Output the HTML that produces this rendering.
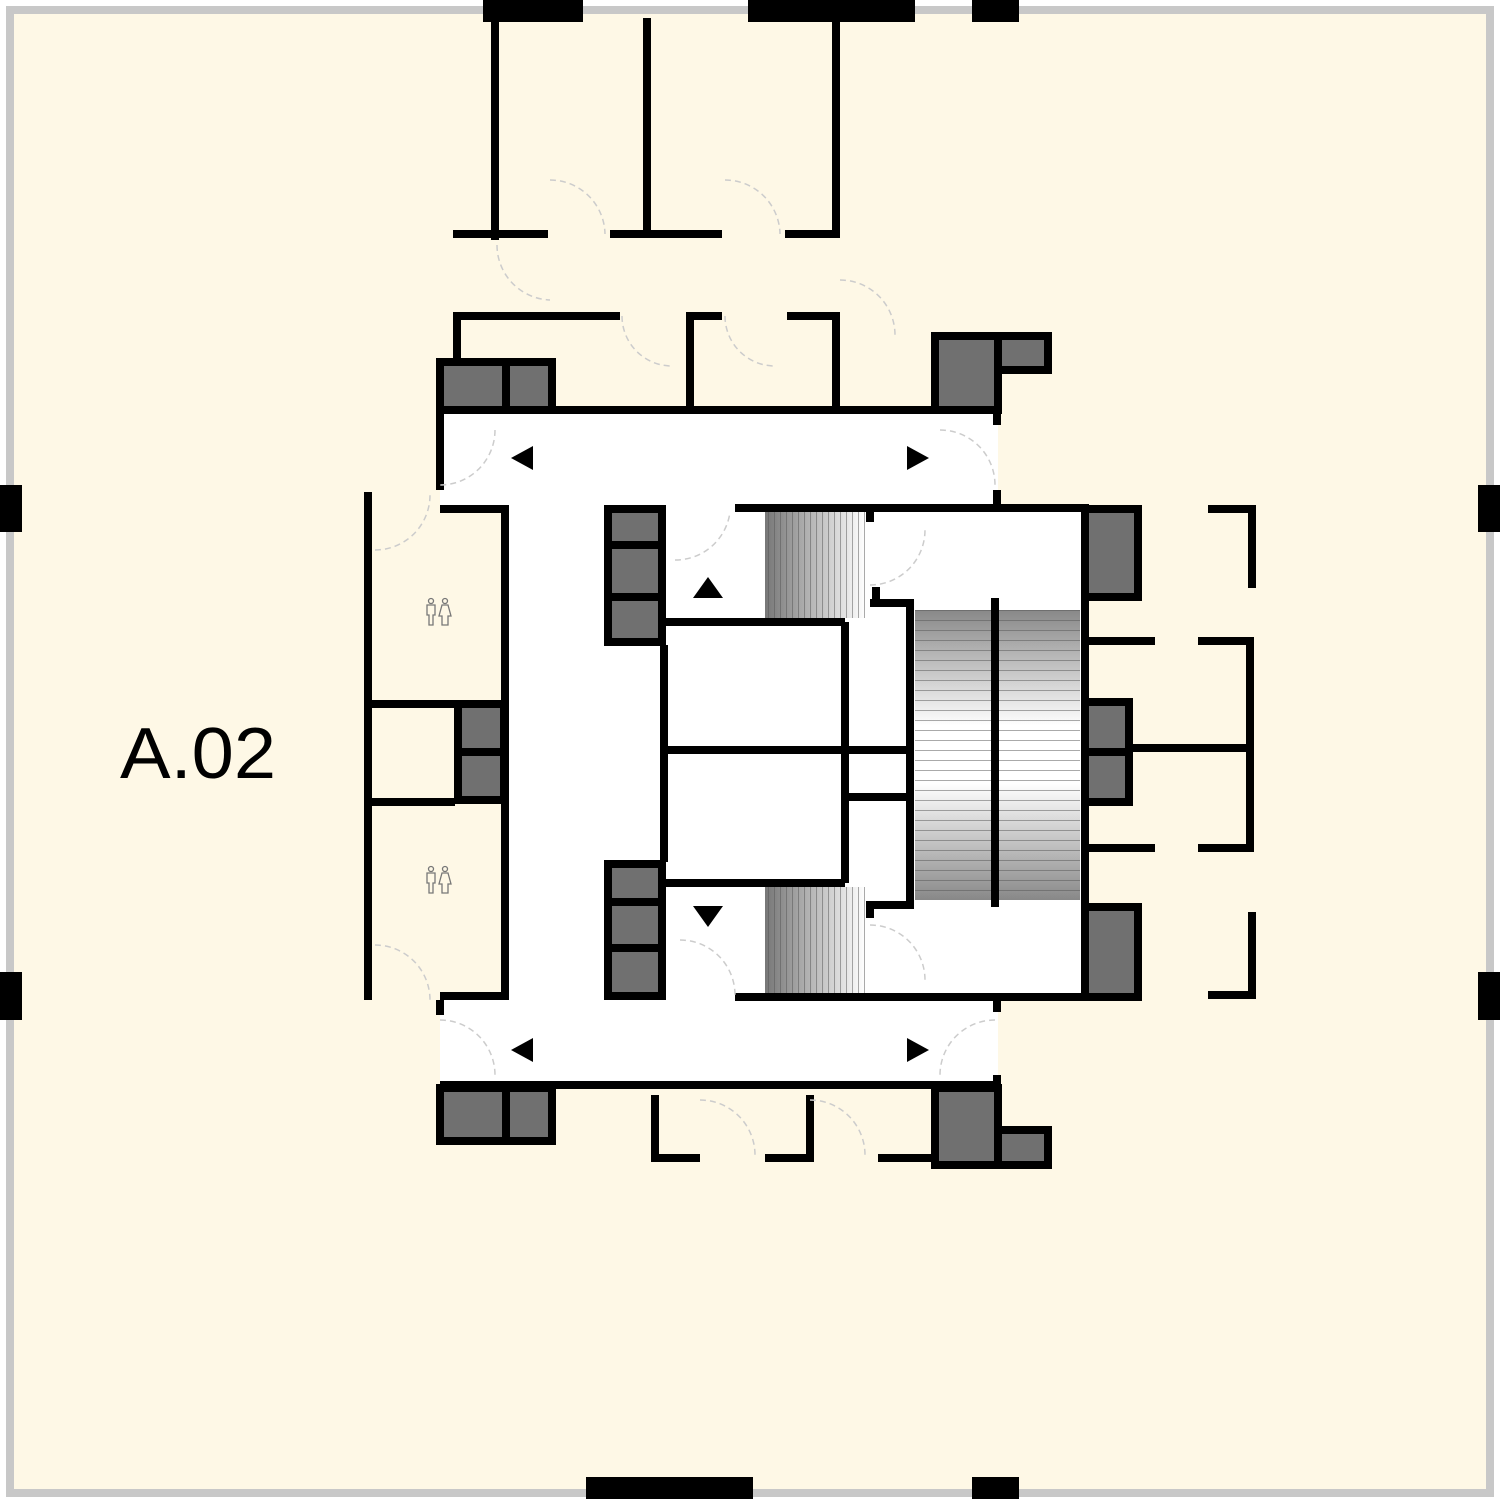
<!DOCTYPE html>
<html><head><meta charset="utf-8"><style>html,body{margin:0;padding:0;background:#fff}svg{display:block}</style></head><body>
<svg width="1500" height="1503" viewBox="0 0 1500 1503" xmlns="http://www.w3.org/2000/svg">
<defs>
<linearGradient id="st" x1="0" y1="0" x2="0" y2="1"><stop offset="0" stop-color="#888"/><stop offset="0.4" stop-color="#fff"/><stop offset="0.6" stop-color="#fff"/><stop offset="1" stop-color="#888"/></linearGradient>
<linearGradient id="es" x1="0" y1="0" x2="1" y2="0"><stop offset="0" stop-color="#777"/><stop offset="1" stop-color="#fff"/></linearGradient>
<pattern id="ln" width="8" height="10" patternUnits="userSpaceOnUse"><line x1="0" y1="0" x2="8" y2="0" stroke="#555" stroke-width="1"/></pattern>
<pattern id="lv" width="6" height="8" patternUnits="userSpaceOnUse"><line x1="0" y1="0" x2="0" y2="8" stroke="#555" stroke-width="1"/></pattern>
<g id="wc" fill="none" stroke="#777" stroke-width="1.3">
<circle cx="-7" cy="-12" r="2.5"/><path d="M-11 -8H-3V2H-5V12H-9V2H-11Z"/>
<circle cx="7" cy="-12" r="2.5"/><path d="M4 -8H10L13 3H10V12H4V3H1Z"/>
</g>
</defs>
<rect x="10" y="10" width="1480" height="1483" fill="#fef8e6" stroke="#c8c8c8" stroke-width="8"/>
<g fill="#000">
<rect x="483" y="0" width="100" height="22"/><rect x="748" y="0" width="167" height="22"/><rect x="972" y="0" width="47" height="22"/>
<rect x="0" y="485" width="22" height="47"/><rect x="0" y="972" width="22" height="48"/>
<rect x="1478" y="485" width="22" height="47"/><rect x="1478" y="972" width="22" height="48"/>
<rect x="586" y="1477" width="167" height="22"/><rect x="972" y="1477" width="47" height="22"/>
</g>
<g fill="#fff">
<rect x="440" y="414" width="558" height="91"/>
<rect x="505" y="505" width="105" height="495"/>
<rect x="440" y="1000" width="558" height="85"/>
<rect x="610" y="505" width="475" height="495"/>
</g>
<rect x="915" y="610" width="165" height="290" fill="url(#st)"/>
<rect x="915" y="610" width="165" height="290" fill="url(#ln)"/>
<rect x="765" y="512" width="100" height="106" fill="url(#es)"/><rect x="765" y="512" width="100" height="106" fill="url(#lv)"/>
<rect x="765" y="887" width="100" height="106" fill="url(#es)"/><rect x="765" y="887" width="100" height="106" fill="url(#lv)"/>
<g fill="#707070" stroke="#000" stroke-width="8">
<rect x="440" y="362" width="66" height="48"/><rect x="506" y="362" width="46" height="48"/>
<rect x="935" y="336" width="63" height="74"/><rect x="998" y="336" width="50" height="34"/>
<rect x="458" y="704" width="46" height="48"/><rect x="458" y="752" width="46" height="48"/>
<rect x="608" y="509" width="54" height="36"/><rect x="608" y="545" width="54" height="52"/><rect x="608" y="597" width="54" height="45"/>
<rect x="608" y="864" width="54" height="38"/><rect x="608" y="902" width="54" height="46"/><rect x="608" y="948" width="54" height="48"/>
<rect x="1085" y="509" width="53" height="88"/><rect x="1085" y="702" width="44" height="50"/><rect x="1085" y="752" width="44" height="50"/><rect x="1085" y="907" width="53" height="90"/>
<rect x="440" y="1088" width="66" height="53"/><rect x="506" y="1088" width="46" height="53"/>
<rect x="935" y="1088" width="63" height="77"/><rect x="998" y="1130" width="50" height="35"/>
</g>
<g stroke="#000" stroke-width="8" fill="none">
<path d="M495 18V240M647 18V235M836 18V237M453 234H548M610 234H722M785 234H840"/>
<path d="M457 360V316H620M690 410V316H722M787 316H836V410"/>
<path d="M440 410H998M440 410V490M997 410V425M997 490V505"/>
<path d="M440 509H505V1000M440 996H505M368 492V1000M368 704H455M368 802H455"/>
<path d="M664 645V862M664 622H845M664 750H910M664 883H845M845 622V883M845 797H910"/>
<path d="M870 512V522M870 603H910V905H870V918M876 587V603M995 598V907"/>
<path d="M735 508H1085V1000M735 997H1085M997 997V1012M440 1085H998M440 1000V1015M997 1075V1085"/>
<path d="M1208 509H1252V588M1088 641H1155M1198 641H1250V848H1198M1155 848H1088M1130 748H1250M1208 995H1252V912"/>
<path d="M655 1095V1158H700M765 1158H810V1095M878 1158H935"/>
</g>
<g stroke="#ccc" stroke-width="1.5" stroke-dasharray="6 4" fill="none">
<path d="M550 180A55 55 0 0 1 605 234M725 180A55 55 0 0 1 780 234M497 245A55 55 0 0 0 550 300M622 316A50 50 0 0 0 672 366M725 316A50 50 0 0 0 775 366M840 280A55 55 0 0 1 895 335"/>
<path d="M495 430A55 55 0 0 1 440 485M940 430A55 55 0 0 1 995 485M375 550A55 55 0 0 0 430 495M375 945A55 55 0 0 1 430 1000M675 560A55 55 0 0 0 730 512M680 940A55 55 0 0 1 735 995M870 585A55 55 0 0 0 925 530M870 925A55 55 0 0 1 925 980M440 1020A55 55 0 0 1 495 1075M995 1020A55 55 0 0 0 940 1075M700 1100A55 55 0 0 1 755 1155M810 1100A55 55 0 0 1 865 1155"/>
</g>
<g fill="#000">
<polygon points="511,458 533,446 533,470"/><polygon points="929,458 907,446 907,470"/>
<polygon points="511,1050 533,1038 533,1062"/><polygon points="929,1050 907,1038 907,1062"/>
<polygon points="708,577 693,598 723,598"/><polygon points="708,927 693,906 723,906"/>
</g>
<use href="#wc" x="438" y="613"/>
<use href="#wc" x="438" y="881"/>
<text x="120" y="778" font-family="Liberation Sans, sans-serif" font-size="72" fill="#000" textLength="156" lengthAdjust="spacingAndGlyphs">A.02</text>
</svg>
</body></html>
